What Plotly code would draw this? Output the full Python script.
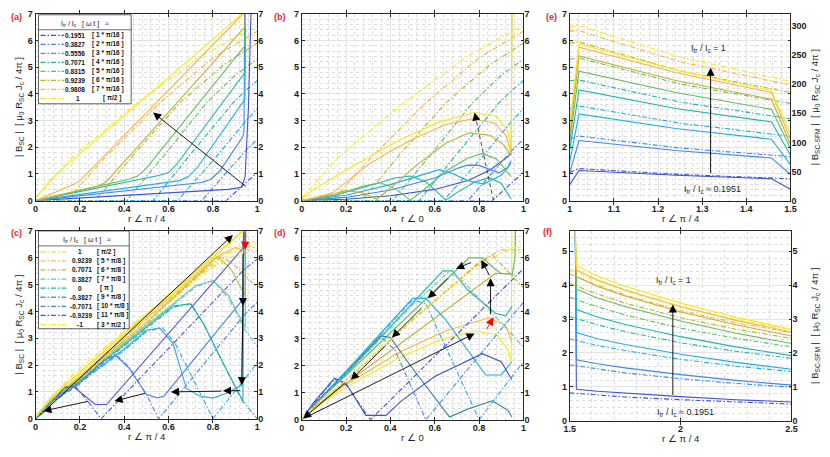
import plotly.graph_objects as go

W, H = 830, 457
AX = '#262626'
FONT = 'Liberation Sans, Arial, sans-serif'
DASHDOT = '5px,2px,1.5px,2px'

# ---------------- colours / labels ----------------
CUR_COLORS = ['#3d52d5', '#3f86ee', '#1caee6', '#1eb5ab', '#62bd5d', '#bdb12d', '#fbb23e', '#f4ec17']
CUR_VALUES = ['0.1951', '0.3827', '0.5556', '0.7071', '0.8315', '0.9239', '0.9808', '1']
CUR_PHASES = ['[ 1 * π/16 ]', '[ 2 * π/16 ]', '[ 3 * π/16 ]', '[ 4 * π/16 ]',
              '[ 5 * π/16 ]', '[ 6 * π/16 ]', '[ 7 * π/16 ]', '[ π/2 ]']

C_COLORS = ['#f2e41e', '#f7bd5a', '#c4b43c', '#62c3b8', '#1eb1aa', '#33a6e6', '#4f80e6', '#4a57d4', '#f4ec17']
C_VALUES = ['1', '0.9239', '0.7071', '0.3827', '0', '-0.3827', '-0.7071', '-0.9239', '-1']
C_PHASES = ['[ π/2 ]', '[ 5 * π/8 ]', '[ 6 * π/8 ]', '[ 7 * π/8 ]', '[ π ]',
            '[ 9 * π/8 ]', '[ 10 * π/8 ]', '[ 11 * π/8 ]', '[ 3 * π/2 ]']

# ---------------- panel (a): solid curves ----------------
A_SOLID_X = [
    [0, 0.87, 0.93, 0.945, 0.96, 0.972],
    [0, 0.75, 0.79, 0.83, 0.935, 0.94, 0.943],
    [0, 0.65, 0.69, 0.73, 0.944, 0.947],
    [0, 0.56, 0.60, 0.64, 0.944, 0.947],
    [0, 0.42, 0.46, 0.50, 0.944, 0.947],
    [0, 0.28, 0.31, 0.34, 0.944, 0.947],
    [0, 0.17, 0.20, 0.23, 0.96],
    [0, 0.075, 0.96],
]
A_SOLID_Y = [
    [0, 0.42, 0.50, 0.90, 3.5, 7.2],
    [0, 0.68, 0.80, 1.10, 2.4, 2.6, 7.2],
    [0, 0.75, 0.90, 1.25, 3.8, 7.2],
    [0, 0.95, 1.05, 1.40, 4.8, 7.2],
    [0, 0.80, 0.92, 1.22, 5.8, 7.2],
    [0, 0.55, 0.66, 0.90, 6.5, 7.2],
    [0, 0.60, 0.75, 1.00, 7.2],
    [0.1, 0.85, 7.2],
]

# ---------------- panels (a) and (b): dash-dot curves ----------------
AB_DD_X = [
    [0, 0.86, 0.945, 1.0],
    [0, 0.75, 0.945, 1.0],
    [0, 0.64, 0.80, 0.945, 1.0],
    [0, 0.53, 0.70, 0.89, 0.945, 1.0],
    [0, 0.41, 0.60, 0.77, 0.90, 1.0],
    [0, 0.27, 0.45, 0.65, 0.85, 1.0],
    [0, 0.14, 0.30, 0.56, 0.80, 1.0],
    [0, 0.05, 0.16, 0.46, 0.755, 1.0],
]
AB_DD_Y = [
    [0, 0, 0.65, 1.05],
    [0, 0, 1.85, 2.3],
    [0, 0, 1.5, 2.95, 3.45],
    [0, 0, 1.75, 3.66, 4.1, 4.5],
    [0, 0, 1.9, 3.66, 4.7, 5.3],
    [0, 0, 1.8, 3.66, 5.1, 5.9],
    [0, 0, 1.5, 3.66, 5.35, 6.35],
    [0.1, 0.55, 1.6, 3.66, 5.45, 6.55],
]

# ---------------- panel (b): solid curves ----------------
B_SOLID_X = [
    [0, 0.2, 0.4, 0.6, 0.75, 0.85, 0.945],
    [0, 0.2, 0.4, 0.6, 0.7, 0.75, 0.8, 0.85, 0.89, 0.93, 0.945],
    [0, 0.2, 0.4, 0.55, 0.62, 0.68, 0.75, 0.82, 0.9, 0.945],
    [0, 0.15, 0.3, 0.42, 0.49, 0.56, 0.62, 0.65, 0.7, 0.78, 0.845, 0.9, 0.945],
    [0, 0.15, 0.28, 0.355, 0.42, 0.49, 0.55, 0.65, 0.75, 0.815, 0.88, 0.945],
    [0, 0.12, 0.2, 0.27, 0.34, 0.42, 0.52, 0.65, 0.755, 0.85, 0.91, 0.945, 0.948],
    [0, 0.08, 0.14, 0.2, 0.3, 0.4, 0.5, 0.65, 0.77, 0.87, 0.92, 0.945],
    [0, 0.05, 0.2, 0.44, 0.62, 0.78, 0.88, 0.93, 0.945, 0.948],
]
B_SOLID_Y = [
    [0, 0.05, 0.18, 0.42, 0.75, 1.15, 1.75],
    [0, 0.12, 0.4, 0.85, 1.2, 1.33, 1.32, 1.18, 1.04, 1.25, 1.5],
    [0, 0.2, 0.6, 1.0, 1.16, 1.02, 0.75, 0.62, 0.95, 1.4],
    [0, 0.2, 0.55, 0.85, 0.92, 0.7, 0.25, 0.02, 0.3, 0.7, 0.86, 0.65, 0.05],
    [0, 0.2, 0.55, 0.67, 0.45, 0.02, 0.4, 1.1, 1.6, 1.77, 1.55, 0.9],
    [0, 0.2, 0.38, 0.3, 0.05, 0.6, 1.34, 2.15, 2.54, 2.45, 2.1, 1.7, 7.2],
    [0, 0.15, 0.3, 0.7, 1.35, 1.85, 2.3, 2.85, 3.07, 2.9, 2.45, 1.8],
    [0.05, 0.4, 1.15, 2.26, 2.95, 3.3, 3.15, 2.6, 1.95, 7.2],
]

# ---------------- panel (e) ----------------
E_SOLID_X = [1.0, 1.021, 1.24, 1.457, 1.5]
E_SOLID_Y = [
    [0.60, 1.13, 0.95, 0.82, 0.43],
    [1.05, 2.25, 1.88, 1.60, 0.98],
    [1.45, 3.25, 2.70, 2.30, 1.35],
    [1.90, 4.15, 3.45, 2.95, 1.70],
    [2.20, 4.85, 4.05, 3.42, 1.95],
    [2.45, 5.42, 4.50, 3.80, 2.10],
    [2.65, 5.75, 4.80, 4.05, 2.30],
    [2.85, 5.87, 4.90, 4.12, 2.50],
]
E_DD_X = [1.0, 1.02, 1.25, 1.5]
E_DD_Y = [
    [1.05, 1.20, 0.98, 0.82],
    [2.30, 2.42, 1.97, 1.65],
    [3.45, 3.55, 2.90, 2.41],
    [4.50, 4.52, 3.69, 3.07],
    [5.30, 5.35, 4.37, 3.64],
    [5.90, 5.95, 4.86, 4.05],
    [6.35, 6.37, 5.20, 4.33],
    [6.50, 6.57, 5.38, 4.47],
]

# ---------------- panel (f) ----------------
F_SOLID_X = [1.525, 1.53, 1.625, 1.75, 2.0, 2.25, 2.5]
F_SOLID_Y = [
    [5.6, 0.93, 0.87, 0.81, 0.71, 0.62, 0.55],
    [5.6, 1.80, 1.68, 1.56, 1.36, 1.19, 1.05],
    [5.6, 2.60, 2.42, 2.25, 1.96, 1.72, 1.52],
    [5.6, 3.28, 3.06, 2.84, 2.48, 2.18, 1.92],
    [5.6, 3.88, 3.62, 3.37, 2.94, 2.58, 2.28],
    [5.6, 4.25, 3.96, 3.68, 3.21, 2.83, 2.50],
    [5.6, 4.45, 4.15, 3.86, 3.37, 2.96, 2.62],
    [5.6, 4.58, 4.27, 3.97, 3.47, 3.05, 2.70],
]
F_DD_X = [1.5, 1.625, 1.75, 2.0, 2.25, 2.5]
F_DD_Y = [
    [0.82, 0.76, 0.70, 0.62, 0.55, 0.49],
    [1.65, 1.52, 1.41, 1.24, 1.10, 0.99],
    [2.41, 2.22, 2.07, 1.81, 1.61, 1.45],
    [3.07, 2.83, 2.63, 2.30, 2.05, 1.84],
    [3.64, 3.36, 3.12, 2.73, 2.43, 2.18],
    [4.05, 3.74, 3.47, 3.04, 2.70, 2.43],
    [4.33, 4.00, 3.71, 3.25, 2.89, 2.60],
    [4.47, 4.13, 3.83, 3.35, 2.98, 2.68],
]

# ---------------- panel (c) ----------------
C_SOLID_X = [
    [0, 0.075, 0.96],
    [0, 0.07, 0.2, 0.5, 0.8, 0.9, 0.93, 0.945, 0.948],
    [0, 0.07, 0.2, 0.5, 0.75, 0.82, 0.88, 0.945, 0.948],
    [0, 0.07, 0.2, 0.5, 0.72, 0.8, 0.87, 0.945, 0.948],
    [0, 0.07, 0.2, 0.45, 0.62, 0.7, 0.76, 0.85, 0.935, 0.94],
    [0, 0.07, 0.2, 0.4, 0.5, 0.56, 0.62, 0.68, 0.74, 0.8, 0.86, 0.93, 0.94],
    [0, 0.07, 0.2, 0.31, 0.36, 0.42, 0.5, 0.55, 0.58, 0.935, 0.94],
    [0, 0.07, 0.133, 0.17, 0.27, 0.32, 0.935, 0.94],
    [0, 0.075, 0.96],
]
C_SOLID_Y = [
    [0.1, 0.85, 7.2],
    [0, 0.7, 1.6, 3.75, 5.95, 6.4, 6.3, 6.1, 7.2],
    [0, 0.7, 1.55, 3.6, 5.5, 6.05, 5.6, 4.6, 7.2],
    [0, 0.68, 1.5, 3.5, 4.95, 5.15, 4.6, 3.4, 7.2],
    [0, 0.65, 1.45, 3.1, 4.2, 4.28, 3.5, 2.0, 0.65, 7.2],
    [0, 0.62, 1.4, 2.6, 3.3, 3.38, 2.8, 1.13, 0.85, 0.77, 0.95, 1.25, 7.2],
    [0, 0.6, 1.35, 2.2, 2.36, 1.9, 0.9, 0.78, 0.85, 4.45, 7.2],
    [0, 0.6, 1.2, 1.2, 0.53, 0.53, 6.35, 7.2],
    [0.08, 0.8, 7.15],
]
C_DD_X = [
    [0, 0.05, 0.16, 0.46, 0.755, 1.0],
    [0, 0.07, 0.2, 0.5, 0.8, 0.9, 0.95, 1.0],
    [0, 0.07, 0.2, 0.5, 0.75, 0.84, 0.9, 1.0],
    [0, 0.07, 0.2, 0.5, 0.72, 0.8, 0.87, 0.945, 1.0],
    [0, 0.07, 0.2, 0.45, 0.62, 0.7, 0.76, 0.85, 0.93, 1.0],
    [0, 0.07, 0.2, 0.4, 0.5, 0.57, 0.63, 0.72, 0.8, 0.945, 1.0],
    [0, 0.07, 0.2, 0.3, 0.36, 0.42, 0.5, 0.555, 0.945, 1.0],
    [0, 0.07, 0.13, 0.18, 0.24, 0.296, 0.945, 1.0],
    [0, 0.07, 0.2, 0.5, 0.8, 0.93, 1.0],
]
C_DD_Y = [
    [0.1, 0.55, 1.6, 3.66, 5.45, 6.55],
    [0, 0.68, 1.55, 3.7, 5.9, 6.35, 6.3, 6.25],
    [0, 0.66, 1.5, 3.55, 5.45, 6.05, 5.7, 4.9],
    [0, 0.64, 1.45, 3.45, 4.9, 5.15, 4.5, 3.3, 2.7],
    [0, 0.62, 1.4, 3.05, 4.15, 4.3, 3.5, 2.0, 0.7, 0.0],
    [0, 0.6, 1.35, 2.55, 3.25, 3.4, 2.8, 1.3, 0.0, 1.5, 2.1],
    [0, 0.58, 1.3, 2.1, 2.4, 1.95, 0.9, 0.0, 3.9, 4.35],
    [0, 0.55, 1.15, 1.2, 0.6, 0.0, 5.6, 5.95],
    [0.05, 0.55, 1.45, 3.6, 5.7, 6.5, 6.6],
]

# ---------------- panel (d) ----------------
D_SOLID_COLORS = ['#f4ec17', '#fbb23e', '#bdb12d', '#62bd5d', '#1eb5ab', '#1caee6', '#2c7d8e', '#3d52d5']
D_SOLID_X = [
    [0, 0.05, 0.2, 0.44, 0.62, 0.78, 0.88, 0.93, 0.945, 0.948],
    [0, 0.05, 0.2, 0.44, 0.65, 0.845, 0.92, 0.948],
    [0, 0.05, 0.2, 0.5, 0.874, 0.945],
    [0, 0.05, 0.2, 0.5, 0.755, 0.815, 0.87, 0.9, 0.95, 0.962, 0.965],
    [0, 0.05, 0.2, 0.5, 0.637, 0.68, 0.75, 0.874, 0.92, 0.948],
    [0, 0.05, 0.2, 0.5, 0.56, 0.65, 0.83, 0.9, 0.948],
    [0, 0.05, 0.2, 0.355, 0.4, 0.5, 0.667, 0.75, 0.86, 0.93, 0.948],
    [0, 0.05, 0.148, 0.2, 0.29, 0.38, 0.45, 0.6, 0.815, 0.9, 0.948],
]
D_SOLID_Y = [
    [0.05, 0.4, 1.2, 2.3, 2.95, 3.3, 3.15, 2.6, 2.15, 7.2],
    [0, 0.42, 1.3, 2.5, 3.3, 3.78, 3.5, 2.87],
    [0, 0.42, 1.35, 3.15, 5.43, 5.4],
    [0, 0.5, 1.65, 4.0, 6.0, 6.0, 5.6, 5.42, 5.4, 6.0, 7.2],
    [0, 0.5, 1.7, 4.3, 5.52, 5.52, 4.8, 3.95, 3.85, 4.2],
    [0, 0.5, 1.8, 4.5, 4.5, 3.7, 1.66, 1.66, 2.15],
    [0, 0.5, 1.75, 3.11, 3.05, 1.9, 0.1, 0.4, 0.7, 0.35, 0.1],
    [0, 0.6, 1.54, 1.35, 0.16, 0.16, 0.7, 1.6, 2.45, 2.15, 1.48],
]
D_DD_COLORS = ['#3d52d5', '#4f80e6', '#33a6e6', '#62c3b8', '#bdb12d', '#fbb23e', '#f4ec17']
D_DD_X = [
    [0, 0.05, 0.148, 0.2, 0.31, 1.0],
    [0, 0.05, 0.2, 0.36, 0.42, 0.56, 1.0],
    [0, 0.05, 0.2, 0.5, 0.56, 0.8, 1.0],
    [0, 0.05, 0.2, 0.5, 0.66, 0.72, 1.0],
    [0, 0.05, 0.2, 0.5, 0.8, 0.86, 1.0],
    [0, 0.05, 0.2, 0.5, 0.8, 0.9, 1.0],
    [0, 0.05, 0.2, 0.5, 0.8, 0.93, 1.0],
]
D_DD_Y = [
    [0, 0.55, 1.5, 1.3, 0, 5.6],
    [0, 0.5, 1.7, 3.05, 2.6, 0, 4.35],
    [0, 0.48, 1.75, 4.45, 4.3, 0, 2.15],
    [0, 0.48, 1.7, 4.25, 5.45, 5.2, 2.7],
    [0, 0.45, 1.45, 3.7, 5.8, 6.1, 4.9],
    [0, 0.45, 1.45, 3.72, 5.85, 6.3, 6.3],
    [0.05, 0.45, 1.45, 3.75, 5.75, 6.3, 6.5],
]

# ---------------- arrows: (panel, tail x, tail y, head x, head y, colour) ----------------
ARROWS = [
    ('a', 0.955, 0.49, 0.53, 3.3, 'black'),
    ('e', 1.319, 0.98, 1.319, 4.98, 'black'),
    ('f', 1.965, 0.72, 1.965, 3.43, 'black'),
    ('c', 0.01, 0.05, 0.89, 6.85, 'black'),
    ('c', 0.945, 7.0, 0.945, 6.3, 'red'),
    ('c', 0.935, 6.2, 0.935, 4.2, 'black'),
    ('c', 0.935, 4.3, 0.93, 1.25, 'black'),
    ('c', 0.93, 1.05, 0.845, 1.04, 'black'),
    ('c', 0.845, 1.03, 0.61, 1.0, 'black'),
    ('c', 0.5, 0.96, 0.356, 0.66, 'black'),
    ('c', 0.244, 0.66, 0.035, 0.29, 'black'),
    ('d', 0.77, 5.85, 0.696, 5.6, 'black'),
    ('d', 0.667, 5.3, 0.57, 4.5, 'black'),
    ('d', 0.548, 4.2, 0.407, 3.05, 'black'),
    ('d', 0.385, 2.8, 0.222, 1.48, 'black'),
    ('d', 0.2, 1.4, 0.007, 0.04, 'black'),
    ('d', 0.01, 0.05, 0.78, 3.2, 'black'),
    ('d', 0.83, 3.3, 0.865, 3.8, 'red'),
    ('d', 0.852, 3.85, 0.852, 5.25, 'black'),
    ('d', 0.85, 5.3, 0.81, 5.92, 'black'),
]
B_DASHED_ARROW = (0.865, 0.0, 0.78, 3.3)

# ---------------- panel geometry ----------------
PANELS = {
    'a': dict(xa='x', ya='y', yr='y7', px=[30, 255], py=[9, 200], xr=[0, 1], xdt=0.2, xm=0.04,
              yrng=[0, 7], ym=0.2, rr=[0, 7], rdt=1, xt='r ∠ π / 4'),
    'b': dict(xa='x2', ya='y2', yr='y8', px=[300, 525], py=[9, 200], xr=[0, 1], xdt=0.2, xm=0.04,
              yrng=[0, 7], ym=0.2, rr=[0, 7], rdt=1, xt='r ∠ 0'),
    'e': dict(xa='x3', ya='y3', yr='y9', px=[572, 796], py=[9, 200], xr=[1, 1.5], xdt=0.1, xm=0.02,
              yrng=[0, 7], ym=0.2, rr=[0, 321], rdt=50, xt='r ∠ π / 4'),
    'c': dict(xa='x4', ya='y4', yr='y10', px=[30, 255], py=[231, 423], xr=[0, 1], xdt=0.2, xm=0.04,
              yrng=[0, 7], ym=0.2, rr=[0, 7], rdt=1, xt='r ∠ π / 4'),
    'd': dict(xa='x5', ya='y5', yr='y11', px=[300, 525], py=[231, 424], xr=[0, 1], xdt=0.2, xm=0.04,
              yrng=[0, 7], ym=0.2, rr=[0, 7], rdt=1, xt='r ∠ 0'),
    'f': dict(xa='x6', ya='y6', yr='y12', px=[572, 797], py=[231, 425], xr=[1.5, 2.5], xdt=0.5, xm=0.1,
              yrng=[0, 5.6], ym=0.2, rr=[0, 5.6], rdt=1, xt='r ∠ π / 4'),
}

fig = go.Figure()


def add_line(p, xs, ys, color, dash=None, width=1.1):
    P = PANELS[p]
    fig.add_trace(go.Scatter(x=xs, y=ys, mode='lines',
                             line=dict(color=color, width=width, dash=dash),
                             xaxis=P['xa'], yaxis=P['ya'], showlegend=False, hoverinfo='skip'))


# panel (a)
for i in range(8):
    add_line('a', AB_DD_X[i], AB_DD_Y[i], CUR_COLORS[i], DASHDOT)
for i in range(8):
    add_line('a', A_SOLID_X[i], A_SOLID_Y[i], CUR_COLORS[i])
# panel (b)
for i in range(8):
    add_line('b', AB_DD_X[i], AB_DD_Y[i], CUR_COLORS[i], DASHDOT)
for i in range(8):
    add_line('b', B_SOLID_X[i], B_SOLID_Y[i], CUR_COLORS[i])
# panel (e)
for i in range(8):
    add_line('e', E_DD_X, E_DD_Y[i], CUR_COLORS[i], DASHDOT)
for i in range(8):
    add_line('e', E_SOLID_X, E_SOLID_Y[i], CUR_COLORS[i])
# panel (f)
for i in range(8):
    add_line('f', F_DD_X, F_DD_Y[i], CUR_COLORS[i], DASHDOT)
for i in range(8):
    add_line('f', F_SOLID_X, F_SOLID_Y[i], CUR_COLORS[i])
# panel (c)
for i in range(9):
    add_line('c', C_SOLID_X[i], C_SOLID_Y[i], C_COLORS[i])
for i in range(9):
    add_line('c', C_DD_X[i], C_DD_Y[i], C_COLORS[i], DASHDOT)
# panel (d)
for i in range(len(D_SOLID_X)):
    add_line('d', D_SOLID_X[i], D_SOLID_Y[i], D_SOLID_COLORS[i])
for i in range(len(D_DD_X)):
    add_line('d', D_DD_X[i], D_DD_Y[i], D_DD_COLORS[i], DASHDOT)

# invisible traces to hold the right-hand axes
for p, P in PANELS.items():
    fig.add_trace(go.Scatter(x=[None], y=[None], xaxis=P['xa'], yaxis=P['yr'],
                             showlegend=False, hoverinfo='skip'))


def axname(a):
    return ('xaxis' if a[0] == 'x' else 'yaxis') + a[1:]


tickfont = dict(size=9, color='#1a1a1a', family=FONT, weight='bold')
layout_axes = {}
for p, P in PANELS.items():
    xd = [P['px'][0] / W, P['px'][1] / W]
    yd = [1 - P['py'][1] / H, 1 - P['py'][0] / H]
    common = dict(showline=True, linecolor=AX, linewidth=0.8, mirror='allticks',
                  ticks='inside', ticklen=3, tickcolor=AX, tickwidth=0.7,
                  showgrid=True, gridcolor='#e4e4e4', gridwidth=0.8, zeroline=False,
                  tickfont=tickfont, fixedrange=True)
    layout_axes[axname(P['xa'])] = dict(domain=xd, range=P['xr'], dtick=P['xdt'], tick0=P['xr'][0],
                                        anchor=P['ya'],
                                        minor=dict(dtick=P['xm'], tick0=P['xr'][0], showgrid=True,
                                                   gridcolor='#dedede', griddash='dot', gridwidth=0.5),
                                        **common)
    layout_axes[axname(P['ya'])] = dict(domain=yd, range=P['yrng'], dtick=1, tick0=0,
                                        anchor=P['xa'],
                                        minor=dict(dtick=P['ym'], tick0=0, showgrid=True,
                                                   gridcolor='#dedede', griddash='dot', gridwidth=0.5),
                                        **common)
    layout_axes[axname(P['yr'])] = dict(overlaying=P['ya'], side='right', anchor=P['xa'],
                                        range=P['rr'], dtick=P['rdt'], tick0=0, showgrid=False,
                                        showline=False, ticks='', zeroline=False,
                                        tickfont=tickfont, fixedrange=True)

annotations = []
shapes = []


def px_x(v):
    return v / W


def px_y(v):
    return 1 - v / H


# arrows
for p, tx, ty, hx, hy, col in ARROWS:
    P = PANELS[p]
    annotations.append(dict(x=hx, y=hy, ax=tx, ay=ty, xref=P['xa'], yref=P['ya'],
                            axref=P['xa'], ayref=P['ya'], showarrow=True, arrowhead=2,
                            arrowsize=1.8, arrowwidth=0.9, arrowcolor=col, text=''))
tx, ty, hx, hy = B_DASHED_ARROW
shapes.append(dict(type='line', xref='x2', yref='y2', x0=tx, y0=ty, x1=hx, y1=hy,
                   line=dict(color='#333333', width=0.9, dash='4px,3px')))
annotations.append(dict(x=hx, y=hy, ax=hx + (tx - hx) * 0.05, ay=hy + (ty - hy) * 0.05,
                        xref='x2', yref='y2', axref='x2', ayref='y2', showarrow=True,
                        arrowhead=2, arrowsize=1.8, arrowwidth=0.9, arrowcolor='black', text=''))

# panel letters
for lab, x, y in [('(a)', 3, 12), ('(b)', 270, 12), ('(e)', 546, 12),
                  ('(c)', 3, 233), ('(d)', 270, 233), ('(f)', 543, 232)]:
    annotations.append(dict(text=lab, x=px_x(x), y=px_y(y), xref='paper', yref='paper',
                            xanchor='left', yanchor='middle', showarrow=False,
                            font=dict(size=9, color='#e8262d', family=FONT, weight='bold')))

# axis titles
for p, P in PANELS.items():
    cx = (P['px'][0] + P['px'][1]) / 2
    ty_ = P['py'][1] + 18
    annotations.append(dict(text=P['xt'], x=px_x(cx), y=px_y(ty_), xref='paper', yref='paper',
                            xanchor='center', yanchor='middle', showarrow=False,
                            font=dict(size=9.5, color=AX, family=FONT)))
ytitle = '| B<sub>SC</sub> |  [ μ<sub>0</sub> R<sub>SC</sub> J<sub>c</sub> / 4π ]'
rtitle = '| B<sub>SC-SFM</sub> |  [ μ<sub>0</sub> R<sub>SC</sub> J<sub>c</sub> / 4π ]'
for p in ['a', 'c']:
    P = PANELS[p]
    annotations.append(dict(text=ytitle, x=px_x(13), y=px_y((P['py'][0] + P['py'][1]) / 2),
                            xref='paper', yref='paper', textangle=-90, showarrow=False,
                            xanchor='center', yanchor='middle',
                            font=dict(size=9.5, color=AX, family=FONT)))
for p in ['e', 'f']:
    P = PANELS[p]
    annotations.append(dict(text=rtitle, x=px_x(821), y=px_y((P['py'][0] + P['py'][1]) / 2),
                            xref='paper', yref='paper', textangle=-90, showarrow=False,
                            xanchor='center', yanchor='middle',
                            font=dict(size=9.5, color=AX, family=FONT)))

# in-plot texts for (e) and (f)
for p, x, y, t in [('e', 1.315, 5.69, 'I<sub>tr</sub> / I<sub>c</sub> = 1'),
                   ('e', 1.323, 0.43, 'I<sub>tr</sub> / I<sub>c</sub> ≈ 0.1951'),
                   ('f', 1.97, 4.13, 'I<sub>tr</sub> / I<sub>c</sub> = 1'),
                   ('f', 2.02, 0.24, 'I<sub>tr</sub> / I<sub>c</sub> ≈ 0.1951')]:
    P = PANELS[p]
    annotations.append(dict(text=t, x=x, y=y, xref=P['xa'], yref=P['ya'], showarrow=False,
                            font=dict(size=9, color=AX, family=FONT)))


# hand-made legends
def legend(box, title_y, sep_y, rows, title_cx, values, phases, colors, line_x, val_cx, val_right,
           ph_left, special_left):
    shapes.append(dict(type='rect', xref='paper', yref='paper', x0=px_x(box[0]), x1=px_x(box[1]),
                       y0=px_y(box[3]), y1=px_y(box[2]), fillcolor='white',
                       line=dict(color='#333333', width=0.8), layer='above'))
    shapes.append(dict(type='line', xref='paper', yref='paper', x0=px_x(box[0]), x1=px_x(box[1]),
                       y0=px_y(sep_y), y1=px_y(sep_y), line=dict(color='#333333', width=0.7)))
    annotations.append(dict(text='I<sub>tr</sub> / I<sub>c</sub>   [ ω t ]   ≈', x=px_x(title_cx),
                            y=px_y(title_y), xref='paper', yref='paper', showarrow=False,
                            xanchor='center', yanchor='middle',
                            font=dict(size=7, color='#111111', family=FONT)))
    for i, (v, ph, c) in enumerate(zip(values, phases, colors)):
        yy = rows[0] + rows[1] * i
        shapes.append(dict(type='line', xref='paper', yref='paper', x0=px_x(line_x[0]),
                           x1=px_x(line_x[1]), y0=px_y(yy), y1=px_y(yy),
                           line=dict(color=c, width=1.3, dash='5px,2px,1.5px,2px')))
        if len(v) <= 2:
            annotations.append(dict(text='<b>%s</b>' % v, x=px_x(val_cx), y=px_y(yy), xref='paper',
                                    yref='paper', showarrow=False, xanchor='center',
                                    yanchor='middle', font=dict(size=6.5, color='#111111', family=FONT)))
        else:
            annotations.append(dict(text='<b>%s</b>' % v, x=px_x(val_right), y=px_y(yy), xref='paper',
                                    yref='paper', showarrow=False, xanchor='right',
                                    yanchor='middle', font=dict(size=6.5, color='#111111', family=FONT)))
        left = special_left.get(ph, ph_left)
        annotations.append(dict(text='<b>%s</b>' % ph, x=px_x(left), y=px_y(yy), xref='paper',
                                yref='paper', showarrow=False, xanchor='left', yanchor='middle',
                                font=dict(size=6.5, color='#111111', family=FONT)))


legend(box=[33, 127, 10, 101], title_y=19, sep_y=25.3, rows=(31, 9.2), title_cx=80,
       values=CUR_VALUES, phases=CUR_PHASES, colors=CUR_COLORS, line_x=(35, 59),
       val_cx=73.5, val_right=82, ph_left=85, special_left={'[ π/2 ]': 96})
legend(box=[33, 125, 231, 331], title_y=240.7, sep_y=246.3, rows=(252.3, 9.3), title_cx=82,
       values=C_VALUES, phases=C_PHASES, colors=C_COLORS, line_x=(35, 61),
       val_cx=75, val_right=89, ph_left=90, special_left={'[ π ]': 93})

fig.update_layout(width=W, height=H, margin=dict(l=0, r=0, t=0, b=0),
                  paper_bgcolor='white', plot_bgcolor='white', showlegend=False,
                  font=dict(family=FONT, color=AX), annotations=annotations, shapes=shapes,
                  **layout_axes)

fig.write_html("out.html", config={'displayModeBar': False},
               post_script="document.body.style.margin='0px';")
